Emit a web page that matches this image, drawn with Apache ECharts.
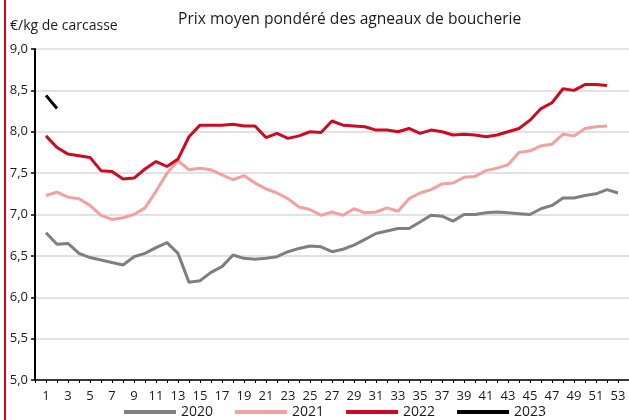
<!DOCTYPE html>
<html>
<head>
<meta charset="utf-8">
<script src="https://cdn.jsdelivr.net/npm/echarts@6/dist/echarts.min.js"></script>
<style>
html,body{margin:0;padding:0;background:#fff;}
#chart{width:629px;height:420px;}
</style>
</head>
<body>
<div id="chart"></div>
<script>
const weeks = ['1','2','3','4','5','6','7','8','9','10','11','12','13','14','15','16','17','18','19','20',
  '21','22','23','24','25','26','27','28','29','30','31','32','33','34','35','36','37','38','39','40',
  '41','42','43','44','45','46','47','48','49','50','51','52','53'];

const y2020 = [6.78,6.64,6.65,6.53,6.48,6.45,6.42,6.39,6.49,6.53,6.60,6.66,6.53,6.18,6.20,6.30,6.37,6.51,6.47,6.46,
  6.47,6.49,6.55,6.59,6.62,6.61,6.55,6.58,6.63,6.70,6.77,6.80,6.83,6.83,6.91,6.99,6.98,6.92,7.00,7.00,
  7.02,7.03,7.02,7.01,7.00,7.07,7.11,7.20,7.20,7.23,7.25,7.30,7.26];
const y2021 = [7.23,7.27,7.21,7.19,7.11,6.99,6.94,6.96,7.00,7.08,7.28,7.50,7.65,7.54,7.56,7.54,7.48,7.42,7.47,7.38,
  7.31,7.26,7.19,7.09,7.06,6.99,7.03,6.99,7.07,7.02,7.03,7.08,7.04,7.19,7.26,7.30,7.37,7.38,7.45,7.46,
  7.53,7.56,7.60,7.75,7.77,7.83,7.85,7.97,7.95,8.04,8.06,8.07];
const y2022 = [7.95,7.81,7.73,7.71,7.69,7.53,7.52,7.43,7.44,7.55,7.64,7.58,7.67,7.94,8.08,8.08,8.08,8.09,8.07,8.07,
  7.93,7.98,7.92,7.95,8.00,7.99,8.13,8.08,8.07,8.06,8.02,8.02,8.00,8.04,7.98,8.02,8.00,7.96,7.97,7.96,
  7.94,7.96,8.00,8.04,8.14,8.28,8.35,8.52,8.50,8.57,8.57,8.56];
const y2023 = [8.44,8.28];

const seriesNames = ['2020','2021','2022','2023'];
const seriesColors = ['#7f7f7f','#f4a09f','#cc0a23','#000000'];
const seriesData = [y2020,y2021,y2022,y2023];

const categories = [''].concat(weeks).concat(['']);

const chart = echarts.init(document.getElementById('chart'), null, {renderer:'canvas'});
const FONT = '"Open Sans", sans-serif';

chart.setOption({
  animation:false,
  backgroundColor:'#ffffff',
  textStyle:{fontFamily:FONT},
  title:[
    {text:'Prix moyen pondéré des agneaux de boucherie', left:178, top:12, padding:0,
     textStyle:{fontFamily:FONT,fontSize:15.6,fontWeight:'normal',color:'#1a1a1a'}},
    {text:'€/kg de carcasse', left:10, top:19, padding:0,
     textStyle:{fontFamily:FONT,fontSize:14,fontWeight:'normal',color:'#1a1a1a'}}
  ],
  graphic:[{type:'line', shape:{x1:5,y1:0,x2:5,y2:420}, style:{stroke:'#e3001b',lineWidth:2}, silent:true}],
  legend:{
    left:124, top:405, itemWidth:52, itemHeight:4, itemGap:22, icon:'rect', padding:0,
    textStyle:{fontFamily:FONT,fontSize:14,color:'#1a1a1a'},
    data:seriesNames
  },
  grid:{left:35, top:49, width:600, height:331, containLabel:false},
  xAxis:{
    type:'category', data:categories, boundaryGap:false,
    axisLine:{lineStyle:{color:'#000',width:1.5}},
    axisTick:{show:true, interval:0, length:3, lineStyle:{color:'#000',width:1}},
    axisLabel:{interval:function(i){return i%2===1;}, margin:10, fontSize:13, color:'#1a1a1a', fontFamily:FONT},
    splitLine:{show:false}
  },
  yAxis:{
    type:'value', min:5, max:9, interval:0.5,
    axisLine:{show:true, lineStyle:{color:'#000',width:2}},
    axisTick:{show:true, length:4, lineStyle:{color:'#000',width:1.5}},
    axisLabel:{margin:7, fontSize:13, color:'#1a1a1a', fontFamily:FONT,
      formatter:function(v){return v.toFixed(1).replace('.',',');}},
    splitLine:{lineStyle:{color:'#d9d9d9',width:1.5}}
  },
  series:seriesNames.map(function(n,i){
    return {name:n, type:'line', data:[null].concat(seriesData[i]), showSymbol:false, symbol:'none',
      lineStyle:{width:3,color:seriesColors[i]}, itemStyle:{color:seriesColors[i]}, connectNulls:false};
  })
});
</script>
</body>
</html>
